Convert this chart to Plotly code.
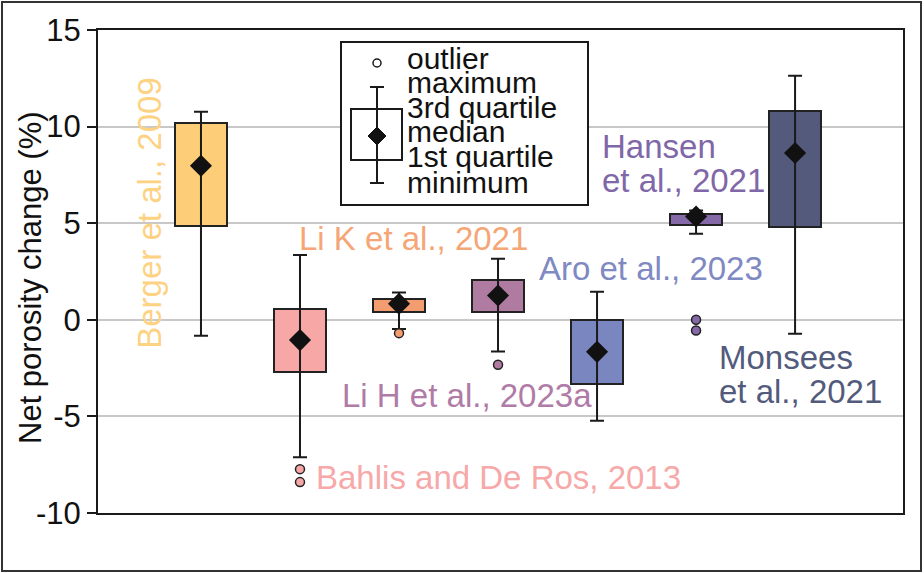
import plotly.graph_objects as go

# data
studies = ["Berger et al., 2009", "Bahlis and De Ros, 2013", "Li K et al., 2021",
           "Li H et al., 2023a", "Aro et al., 2023", "Hansen et al., 2021",
           "Monsees et al., 2021"]
pos = [1, 2, 3, 4, 5, 6, 7]
whisker_min = [-0.83, -7.12, -0.48, -1.64, -5.23, 4.45, -0.72]
q1 = [4.87, -2.69, 0.41, 0.40, -3.31, 4.93, 4.80]
median = [7.97, -1.05, 0.83, 1.26, -1.66, 5.35, 8.63]
q3 = [10.20, 0.56, 1.10, 2.04, 0.00, 5.49, 10.82]
whisker_max = [10.77, 3.36, 1.41, 3.16, 1.45, 5.66, 12.63]
outliers = [[], [-7.73, -8.40], [-0.69], [-2.33], [], [0.0, -0.55], []]

fills = ["#FDCE77", "#F7A8A6", "#F39C70", "#B07BA0", "#7A86C0", "#8468A8", "#535A7B"]
text_colors = ["#FDD283", "#F7A8A8", "#F5A676", "#B07BA6", "#7F89C2", "#7F67A8", "#535B7D"]

FONT = "Arial, Liberation Sans, sans-serif"
INK = "#1a1a1a"

fig = go.Figure()

fig.add_trace(go.Bar(
    x=pos, base=q1, y=[b - a for a, b in zip(q1, q3)], width=0.52,
    marker=dict(color=fills, line=dict(color="#222222", width=2)),
    hoverinfo="skip",
))

fig.add_trace(go.Scatter(
    x=pos, y=median, mode="markers",
    marker=dict(symbol="diamond", size=17, color="#111111"),
    error_y=dict(type="data", symmetric=False,
                 array=[hi - m for hi, m in zip(whisker_max, median)],
                 arrayminus=[m - lo for lo, m in zip(whisker_min, median)],
                 color=INK, thickness=2, width=7),
))

for p, pts, c in zip(pos, outliers, fills):
    if pts:
        fig.add_trace(go.Scatter(
            x=[p] * len(pts), y=pts, mode="markers",
            marker=dict(symbol="circle", size=9, color=c,
                        line=dict(color="#222222", width=1.5)),
        ))

# plot-area geometry in pixels (for paper-coordinate helpers)
L, R, T, B = 98, 903, 30, 513


def px(x):
    return (x - L) / (R - L)


def py(y):
    return (B - y) / (B - T)


shapes = []
# outer frame
shapes.append(dict(type="rect", xref="paper", yref="paper",
                   x0=px(2), x1=px(921), y0=py(2), y1=py(571),
                   line=dict(color="#333333", width=2)))
# legend key box
shapes.append(dict(type="rect", xref="paper", yref="paper",
                   x0=px(341), x1=px(588), y0=py(42), y1=py(205),
                   fillcolor="white", line=dict(color=INK, width=2), layer="above"))
kx = 377
shapes += [
    dict(type="line", xref="paper", yref="paper", x0=px(kx), x1=px(kx),
         y0=py(87), y1=py(183), line=dict(color=INK, width=2), layer="above"),
    dict(type="line", xref="paper", yref="paper", x0=px(370), x1=px(384),
         y0=py(87), y1=py(87), line=dict(color=INK, width=2), layer="above"),
    dict(type="line", xref="paper", yref="paper", x0=px(370), x1=px(384),
         y0=py(183), y1=py(183), line=dict(color=INK, width=2), layer="above"),
    dict(type="rect", xref="paper", yref="paper", x0=px(351), x1=px(402),
         y0=py(109), y1=py(160), line=dict(color=INK, width=2), layer="above"),
    dict(type="circle", xref="paper", yref="paper", x0=px(373), x1=px(381),
         y0=py(59), y1=py(67), line=dict(color=INK, width=1.5), fillcolor="white",
         layer="above"),
    dict(type="path", xref="paper", yref="paper",
         path=f"M {px(kx)},{py(127)} L {px(kx + 9)},{py(136)} L {px(kx)},{py(145)} "
              f"L {px(kx - 9)},{py(136)} Z",
         fillcolor="#111111", line=dict(color="#111111", width=1), layer="above"),
]

annotations = []
key_lines = ["outlier", "maximum", "3rd quartile", "median", "1st quartile", "minimum"]
key_y = [58, 83, 107, 132, 156, 182]
for t, yy in zip(key_lines, key_y):
    annotations.append(dict(xref="paper", yref="paper", x=px(405), y=py(yy),
                            text=t, showarrow=False, xanchor="left", yanchor="middle",
                            font=dict(family=FONT, size=30, color="#111111")))

# study labels (data coordinates)
label_specs = [
    (0, ["Berger et al., 2009"], 0.485, [5.54], -90),
    (1, ["Bahlis and De Ros, 2013"], 2.14, [-8.18], 0),
    (2, ["Li K et al., 2021"], 1.97, [4.19], 0),
    (3, ["Li H et al., 2023a"], 2.40, [-3.93], 0),
    (4, ["Aro et al., 2023"], 4.39, [2.64], 0),
    (5, ["Hansen", "et al., 2021"], 5.03, [8.95, 7.22], 0),
    (6, ["Monsees", "et al., 2021"], 6.21, [-1.97, -3.70], 0),
]
for i, lines, lx, lys, ang in label_specs:
    for t, ly in zip(lines, lys):
        annotations.append(dict(x=lx, y=ly, text=t, showarrow=False, textangle=ang,
                                xanchor="center" if ang else "left", yanchor="middle",
                                font=dict(family=FONT, size=33, color=text_colors[i])))

annotations.append(dict(xref="paper", yref="paper", x=px(30), y=py(278),
                        text="Net porosity change (%)", showarrow=False, textangle=-90,
                        xanchor="center", yanchor="middle",
                        font=dict(family=FONT, size=31, color="#111111")))

fig.update_layout(
    width=924, height=573,
    margin=dict(l=L, r=924 - R, t=T, b=573 - B),
    paper_bgcolor="white", plot_bgcolor="white",
    showlegend=False, bargap=0,
    shapes=shapes, annotations=annotations,
    font=dict(family=FONT, color="#111111"),
)
fig.update_xaxes(range=[-0.04, 8.09], showticklabels=False, ticks="",
                 showgrid=False, zeroline=False, showline=True, mirror=True,
                 linecolor=INK, linewidth=2)
fig.update_yaxes(range=[-10, 15], tickvals=[-10, -5, 0, 5, 10, 15],
                 ticktext=["-10", "-5", "0", "5", "10", "15"],
                 ticks="outside", ticklen=9, tickwidth=2, tickcolor=INK,
                 tickfont=dict(family=FONT, size=31, color="#111111"),
                 showgrid=True, gridcolor="#C8C8C8", gridwidth=2, zeroline=False,
                 showline=True, mirror=True, linecolor=INK, linewidth=2)

# drop the default page margin so the figure sits at the window's top-left corner
fig.write_html("out.html", config={"displayModeBar": False},
               post_script="document.body.style.margin='0';")
